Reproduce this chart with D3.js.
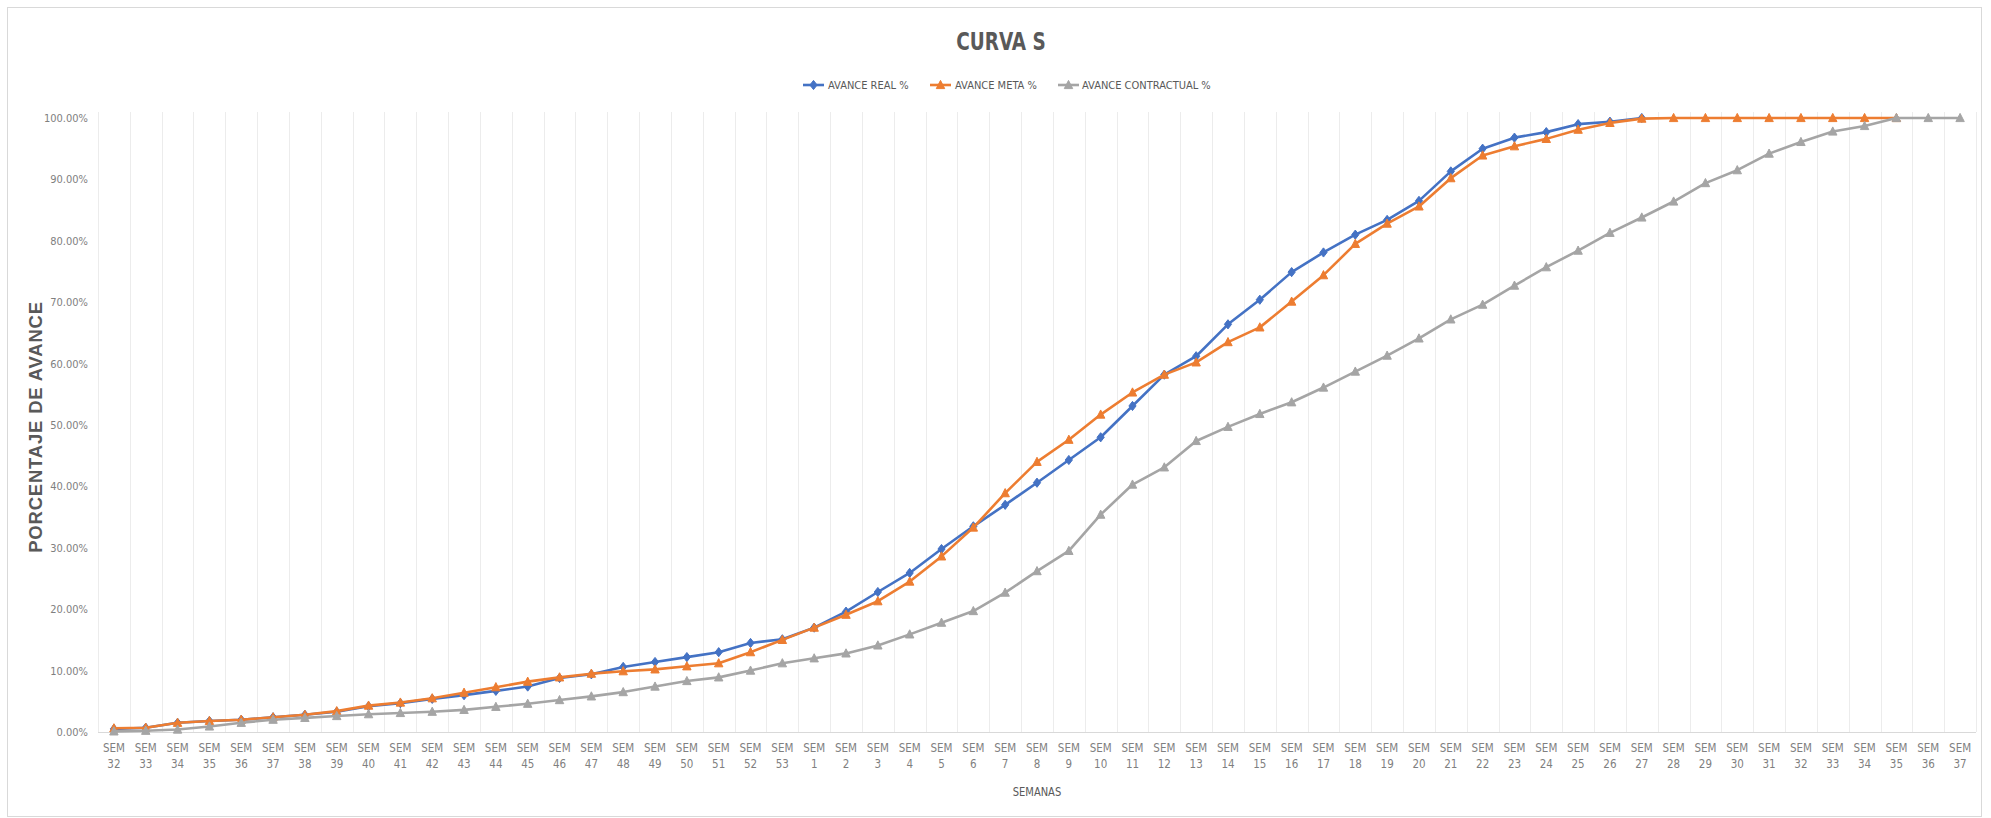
<!DOCTYPE html>
<html>
<head>
<meta charset="utf-8">
<script src="https://cdn.jsdelivr.net/npm/d3@7"></script>
<style>
  html, body { margin: 0; padding: 0; background: #ffffff; }
  svg { display: block; }
  .narrow { font-family: "Liberation Sans Narrow", "Arial Narrow", "DejaVu Sans Condensed", "Open Sans", sans-serif; }
</style>
</head>
<body>
<svg id="chart" width="1991" height="818"></svg>
<script>
// ---------------- DATA ----------------
const weeks = [32,33,34,35,36,37,38,39,40,41,42,43,44,45,46,47,48,49,50,51,52,53,
               1,2,3,4,5,6,7,8,9,10,11,12,13,14,15,16,17,18,19,20,21,22,23,24,25,26,27,28,29,30,31,32,33,34,35,36,37];

const avanceReal = [0.5,0.7,1.5,1.8,2.0,2.4,2.8,3.3,4.2,4.7,5.4,6.0,6.7,7.4,8.8,9.4,10.6,11.4,12.2,13.0,
                    14.5,15.1,17.0,19.6,22.8,25.9,29.8,33.5,37.0,40.6,44.3,48.0,53.1,58.2,61.2,66.4,70.4,74.9,
                    78.1,81.0,83.4,86.5,91.3,95.0,96.8,97.7,99.0,99.4,100];

const avanceMeta = [0.6,0.7,1.5,1.8,2.0,2.4,2.8,3.4,4.3,4.8,5.5,6.4,7.3,8.2,8.9,9.5,9.9,10.2,10.7,11.2,
                    13.0,15.0,17.0,19.1,21.3,24.5,28.6,33.3,38.9,44.0,47.6,51.7,55.3,58.2,60.2,63.5,65.9,70.1,
                    74.4,79.5,82.8,85.6,90.2,93.9,95.4,96.6,98.1,99.2,99.9,100,100,100,100,100,100,100,100];

const avanceContractual = [0.1,0.2,0.4,0.9,1.5,2.0,2.3,2.6,2.9,3.1,3.3,3.6,4.1,4.6,5.2,5.8,6.5,7.4,8.3,8.9,
                           10.0,11.2,12.0,12.8,14.1,15.9,17.8,19.7,22.7,26.2,29.5,35.4,40.3,43.1,47.4,49.7,51.8,
                           53.7,56.1,58.7,61.3,64.1,67.2,69.6,72.7,75.7,78.4,81.3,83.8,86.4,89.4,91.5,94.2,96.1,
                           97.8,98.7,100,100,100];

const yTicks = [0,10,20,30,40,50,60,70,80,90,100];

const seriesNames = ["AVANCE REAL %", "AVANCE META %", "AVANCE CONTRACTUAL %"];
const seriesColors = ["#4472C4", "#ED7D31", "#A5A5A5"];
const seriesMarkers = ["diamond", "triangle", "triangle"];

const titleText = "CURVA S";
const yTitle = "PORCENTAJE DE AVANCE";
const xTitle = "SEMANAS";

// ---------------- LAYOUT ----------------
const svg = d3.select("#chart");
const plot = { left: 98, right: 1976, top: 118, bottom: 732 };

// chart border
svg.append("rect")
  .attr("x", 7.5).attr("y", 7.5)
  .attr("width", 1974).attr("height", 809)
  .attr("fill", "#ffffff").attr("stroke", "#d9d9d9").attr("stroke-width", 1);

const idx = weeks.map((w, i) => i);
const x = d3.scaleBand().domain(idx).range([plot.left, plot.right]).paddingInner(0).paddingOuter(0);
const xc = i => x(i) + x.bandwidth() / 2;
const y = d3.scaleLinear().domain([0, 100]).range([plot.bottom, plot.top]);

// vertical gridlines at category boundaries
const gridX = idx.map(i => x(i)).concat([plot.right]);
svg.append("g").selectAll("line").data(gridX).join("line")
  .attr("x1", d => Math.round(d) + 0.5).attr("x2", d => Math.round(d) + 0.5)
  .attr("y1", plot.top - 6).attr("y2", plot.bottom)
  .attr("stroke", "#ececec").attr("stroke-width", 1);

// x axis line
svg.append("line")
  .attr("x1", plot.left).attr("x2", plot.right)
  .attr("y1", plot.bottom + 0.5).attr("y2", plot.bottom + 0.5)
  .attr("stroke", "#d9d9d9").attr("stroke-width", 1);

// y axis labels
const yAxis = d3.axisLeft(y).tickValues(yTicks).tickSize(0).tickPadding(10)
  .tickFormat(d => d3.format(".2f")(d) + "%");
const gy = svg.append("g").attr("transform", `translate(${plot.left},0)`).call(yAxis);
gy.select(".domain").remove();
gy.selectAll("text").attr("class", "narrow").attr("font-size", 11).attr("fill", "#7f7f7f");

// x axis labels (two lines)
const xAxis = d3.axisBottom(x).tickSize(0).tickFormat(() => "");
const gx = svg.append("g").attr("transform", `translate(0,${plot.bottom})`).call(xAxis);
gx.select(".domain").remove();
gx.selectAll(".tick text").each(function(d) {
  const t = d3.select(this).attr("class", "narrow").attr("font-size", 11.5).attr("fill", "#7f7f7f").attr("y", 12);
  t.append("tspan").attr("x", 0).attr("dy", "0.71em").text("SEM");
  t.append("tspan").attr("x", 0).attr("dy", 16).text(weeks[d]);
});

// titles
svg.append("text").attr("class", "narrow")
  .attr("transform", "translate(1001,50) scale(0.82,1)")
  .attr("text-anchor", "middle")
  .attr("font-size", 25).attr("font-weight", "bold").attr("fill", "#595959").text(titleText);

svg.append("text").attr("class", "narrow")
  .attr("transform", `translate(${(plot.left + plot.right) / 2},796) scale(0.85,1)`)
  .attr("text-anchor", "middle")
  .attr("font-size", 13).attr("fill", "#595959").text(xTitle);

svg.append("text")
  .attr("transform", `translate(42,${(plot.top + plot.bottom) / 2 + 2}) rotate(-90)`)
  .attr("text-anchor", "middle")
  .attr("font-family", "Liberation Sans, Arial, sans-serif")
  .attr("font-weight", "bold").attr("font-size", 18.5).attr("letter-spacing", 0.8)
  .attr("fill", "#595959").text(yTitle);

// markers
function markerPath(type) {
  if (type === "diamond") return "M0,-4.6L3.6,0L0,4.6L-3.6,0Z";
  return "M0,-4.6L4.2,3.6L-4.2,3.6Z";
}

// series
const allSeries = [avanceReal, avanceMeta, avanceContractual];
const line = d3.line().x((d, i) => xc(i)).y(d => y(d));

allSeries.forEach((vals, s) => {
  const g = svg.append("g");
  g.append("path").datum(vals)
    .attr("d", line).attr("fill", "none")
    .attr("stroke", seriesColors[s]).attr("stroke-width", 2.6)
    .attr("stroke-linejoin", "round").attr("stroke-linecap", "round");
  g.selectAll("path.m").data(vals).join("path").attr("class", "m")
    .attr("transform", (d, i) => `translate(${xc(i)},${y(d)})`)
    .attr("d", markerPath(seriesMarkers[s]))
    .attr("fill", seriesColors[s]).attr("stroke", seriesColors[s]).attr("stroke-width", 1);
});

// legend
const legendItems = [
  { lx: 803, tx: 828 },
  { lx: 930, tx: 955 },
  { lx: 1058, tx: 1082 }
];
const legY = 85;
seriesNames.forEach((name, s) => {
  const g = svg.append("g");
  const L = legendItems[s];
  g.append("line").attr("x1", L.lx).attr("x2", L.lx + 21).attr("y1", legY).attr("y2", legY)
    .attr("stroke", seriesColors[s]).attr("stroke-width", 2.6);
  g.append("path").attr("transform", `translate(${L.lx + 10.5},${legY})`)
    .attr("d", markerPath(seriesMarkers[s])).attr("fill", seriesColors[s])
    .attr("stroke", seriesColors[s]).attr("stroke-width", 1);
  g.append("text").attr("class", "narrow").attr("x", L.tx).attr("y", legY + 4)
    .attr("font-size", 11).attr("fill", "#595959").text(name);
});
</script>
</body>
</html>
